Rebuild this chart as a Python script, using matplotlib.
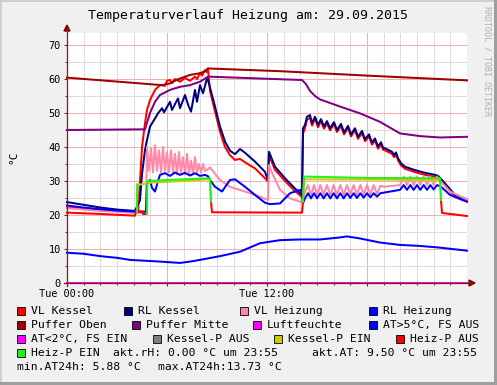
import numpy as np
import matplotlib
matplotlib.use("Agg")
import matplotlib.pyplot as plt
from matplotlib.lines import Line2D
from matplotlib.patches import Rectangle, Polygon

nan = np.nan

# ---------------- data (hours since Tue 00:00, °C) ----------------
vk_t = [0, 2, 4.08, 4.26, 4.38, 4.5, 4.68, 4.8, 4.98, 5.28, 5.58, 5.88, 6.0, 6.18, 6.3, 6.48, 6.78, 7.08,
        7.38, 7.68, 7.8, 7.98, 8.1, 8.28, 8.4, 8.46, 8.58, 8.88, 9.18, 9.48, 9.78, 10.08, 10.38, 10.68,
        11.28, 11.88, 12.06, 12.12, 12.48, 13.08, 13.68, 13.98, 14.1, 14.16, 14.28, 14.4, 14.58,
        14.7, 14.88, 15.06, 15.24, 15.42, 15.6, 15.78, 16.02, 16.2, 16.44, 16.62, 16.86, 17.04, 17.28,
        17.46, 17.7, 17.88, 18.12, 18.3, 18.48, 18.66, 18.84, 18.96, 19.08, 19.5, 19.62, 19.74, 19.86,
        20.04, 20.28, 20.88, 21.48, 22.08, 22.26, 22.44, 22.68, 23.28, 24]
vk_v = [22.3, 21.6, 21.0, 21.0, 30.0, 40.0, 47.0, 50.9, 53.8, 56.8, 58.2, 58.0, 59.5, 59.7, 58.8, 60.0, 59.2, 60.3,
        59.5, 60.7, 60.0, 61.7, 61.0, 62.6, 62.0, 63.1, 56.5, 50.5, 44.5, 40.0, 37.6, 36.2, 36.5, 35.5,
        33.7, 30.8, 29.8, 37.5, 33.3, 30.0, 27.0, 25.8, 25.3, 44.0, 45.5, 48.0, 48.6,
        46.3, 48.3, 45.8, 47.6, 45.4, 47.0, 44.9, 46.7, 44.4, 46.2, 43.7, 45.6, 43.1, 44.9,
        42.4, 44.1, 41.7, 43.1, 40.7, 41.9, 39.5, 40.8, 39.2, 39.0, 38.0, 37.0, 37.8, 36.1,
        34.6, 33.6, 32.6, 31.8, 31.2, 30.9, 30.0, 28.7, 25.3, 24.0]

rk_t = [0, 1, 2, 3, 4.08, 4.38, 4.5, 4.68, 4.8, 4.98, 5.28, 5.46, 5.7, 5.82, 6.18, 6.3, 6.66, 6.78, 7.08,
        7.26, 7.44, 7.68, 7.8, 7.98, 8.16, 8.4, 8.46, 8.88, 9.18, 9.48, 9.78, 10.08, 10.38, 10.68, 11.28,
        11.88, 12.06, 12.12, 12.48, 13.08, 13.68, 13.98, 14.1, 14.16, 14.28, 14.4, 14.58, 14.7, 14.88,
        15.06, 15.24, 15.42, 15.6, 15.78, 16.02, 16.2, 16.44, 16.62, 16.86, 17.04, 17.28, 17.46, 17.7,
        17.88, 18.12, 18.3, 18.48, 18.66, 18.84, 18.96, 19.08, 19.5, 19.62, 19.74, 19.86, 20.04, 20.28,
        20.88, 21.48, 22.08, 22.26, 22.44, 22.68, 23.28, 24]
rk_v = [23.8, 23.0, 22.2, 21.6, 21.2, 24.4, 32.0, 39.1, 42.0, 46.0, 48.4, 49.9, 51.4, 50.2, 53.3, 50.9, 54.3,
        51.4, 55.3, 52.5, 50.4, 56.8, 53.3, 58.2, 55.8, 60.2, 59.7, 51.9, 46.0, 41.6, 38.9, 37.9, 39.4,
        38.3, 35.7, 32.7, 30.3, 38.6, 34.2, 30.8, 27.8, 26.4, 25.9, 45.5, 46.5, 48.9, 49.4, 47.0, 48.9,
        46.5, 48.2, 46.0, 47.6, 45.5, 47.3, 45.0, 46.8, 44.3, 46.2, 43.7, 45.5, 43.0, 44.7, 42.3, 43.7,
        41.3, 42.5, 40.1, 41.4, 39.8, 39.6, 38.6, 37.6, 38.4, 36.7, 35.2, 34.2, 33.2, 32.4, 31.8, 31.5,
        30.6, 29.3, 25.9, 24.6]

vh_t = [0, 2, 4.08, 4.74, 4.8, 4.92, 5.04, 5.16, 5.28, 5.4, 5.52, 5.64, 5.76, 5.88, 6.0, 6.12, 6.24, 6.36,
        6.48, 6.6, 6.72, 6.84, 6.96, 7.08, 7.2, 7.32, 7.44, 7.56, 7.68, 7.8, 7.92, 8.04, 8.16, 8.28, 8.46,
        8.58, 9.18, 9.78, 10.68, 11.58, 12.06, 12.12, 12.3, 12.78, 13.38, 13.98, 14.1, 14.28, 14.46,
        14.64, 14.82, 15.0, 15.2, 15.4, 15.6, 15.8, 16.0, 16.2, 16.4, 16.6, 16.8, 17.0, 17.2, 17.4, 17.6,
        17.8, 18.0, 18.2, 18.4, 18.6, 18.8, 19.0, 19.98, 20.2, 20.4, 20.6, 20.8, 21.0, 21.2, 21.4, 21.6,
        21.8, 22.0, 22.2, 22.44, 22.98, 24]
vh_v = [22.0, 21.2, 20.6, 20.6, 40.1, 33.0, 39.5, 32.5, 40.5, 33.0, 39.0, 32.5, 40.0, 33.0, 38.5, 32.5,
        39.0, 32.5, 38.0, 32.0, 38.5, 32.5, 37.0, 32.0, 38.0, 32.0, 36.0, 32.0, 37.0, 32.5, 35.0, 32.5,
        35.0, 33.0, 33.5, 34.0, 30.3, 28.3, 26.9, 25.4, 24.4, 34.7, 32.4, 27.4, 24.9, 23.9, 23.7, 26.9,
        28.8, 25.9, 28.8, 25.9, 28.8, 25.9, 28.8, 25.9, 28.8, 25.9, 28.8, 25.9, 28.8, 26.0, 28.8, 26.0,
        28.8, 26.0, 28.8, 26.1, 28.8, 26.3, 28.6, 28.3, 28.8, 31.3, 28.8, 31.3, 28.8, 31.3, 28.8, 31.3,
        28.8, 31.3, 28.8, 31.3, 29.8, 26.9, 24.6]

rh_t = [0, 1, 2, 3, 4.08, 4.74, 4.8, 4.98, 5.1, 5.28, 5.46, 5.58, 5.88, 6.18, 6.48, 6.78, 7.08, 7.38,
        7.68, 7.98, 8.28, 8.46, 8.58, 8.88, 9.3, 9.78, 10.08, 10.68, 11.28, 11.88, 12.18, 12.78, 13.38,
        13.98, 14.1, 14.16, 14.28, 14.46, 14.64, 14.82, 15.0, 15.2, 15.4, 15.6, 15.8, 16.0, 16.2, 16.4,
        16.6, 16.8, 17.0, 17.2, 17.4, 17.6, 17.8, 18.0, 18.2, 18.4, 18.6, 18.8, 19.98, 20.2, 20.4, 20.6,
        20.8, 21.0, 21.2, 21.4, 21.6, 21.8, 22.0, 22.2, 22.44, 22.98, 24]
rh_v = [22.8, 22.2, 21.7, 21.3, 21.0, 21.0, 29.0, 30.3, 28.0, 26.9, 30.0, 31.8, 32.3, 31.5, 32.5, 31.8,
        32.4, 31.6, 32.3, 31.5, 31.8, 31.4, 30.3, 28.3, 26.9, 30.3, 30.5, 28.3, 25.9, 23.6, 23.2, 23.4,
        26.4, 27.4, 25.9, 23.5, 24.9, 26.4, 24.9, 26.4, 24.9, 26.4, 24.9, 26.4, 24.9, 26.4, 24.9, 26.4,
        24.9, 26.4, 25.0, 26.4, 25.0, 26.4, 25.1, 26.4, 25.2, 26.4, 25.4, 26.4, 27.4, 28.8, 27.4, 28.8,
        27.4, 28.8, 27.4, 28.8, 27.4, 28.8, 27.5, 28.8, 28.3, 25.9, 23.9]

po_t = [0, 5.7, 6.18, 6.6, 7.38, 7.98, 8.28, 8.46, 12.78, 18, 24]
po_v = [60.4, 58.2, 58.7, 59.8, 61.2, 61.7, 62.3, 63.1, 62.3, 61.0, 59.6]

pm_t = [0, 4.68, 4.98, 5.28, 5.58, 6.18, 6.78, 7.38, 7.98, 8.46, 14.1, 14.34, 14.58, 14.88, 15.18,
        16.38, 17.58, 18.78, 19.98, 21.18, 22.38, 24]
pm_v = [45.0, 45.2, 50.0, 53.3, 55.3, 56.8, 57.7, 58.2, 59.2, 60.7, 59.7, 58.5, 56.5, 55.0, 54.0,
        51.9, 49.9, 47.4, 44.0, 43.2, 42.8, 43.0]

rhum_t = [0, 24]
rhum_v = [0.0, 0.0]

at_t = [0, 1, 2, 3, 3.78, 5.58, 6.78, 7.38, 7.98, 9.18, 10.38, 11.58, 12.78, 13.98, 15.18, 16.38,
        16.8, 17.58, 18.78, 19.98, 21.18, 22.38, 24]
at_v = [8.9, 8.6, 7.9, 7.4, 6.8, 6.3, 5.9, 6.3, 6.8, 7.9, 9.2, 11.7, 12.6, 12.8, 12.8, 13.4,
        13.7, 13.1, 11.9, 11.2, 10.9, 10.4, 9.5]

ke_t = [4.2, 4.22, 5.0, 7.0, 8.46, 8.58, 8.64, nan, 14.16, 14.22, 22.38, 22.44]
ke_v = [21.0, 28.8, 29.5, 30.0, 30.5, 30.3, 24.0, nan, 24.0, 30.5, 30.3, 24.0]

ha_t = [0, 2, 4.08, 4.14, 4.5, 4.56, 4.8, nan, 8.64, 8.7, 14.1, 14.16, nan, 22.44, 22.5, 24]
ha_v = [20.7, 20.3, 19.8, 21.3, 21.0, 20.3, 20.3, nan, 24.0, 20.8, 20.7, 23.9, nan, 24.4, 20.6, 19.7]

he_t = [4.2, 4.22, nan, 4.8, 4.82, 6.5, 8.58, 8.64, nan, 14.16, 14.22, 18.0, 22.38, 22.44]
he_v = [21.0, 29.0, nan, 20.3, 30.0, 30.4, 30.8, 24.0, nan, 23.9, 31.3, 30.9, 30.8, 24.4]

series = [
    ("VL Kessel", vk_t, vk_v, "#FF0000"),
    ("RL Kessel", rk_t, rk_v, "#000080"),
    ("VL Heizung", vh_t, vh_v, "#FF88A8"),
    ("RL Heizung", rh_t, rh_v, "#0000FF"),
    ("Puffer Oben", po_t, po_v, "#A00000"),
    ("Puffer Mitte", pm_t, pm_v, "#800080"),
    ("Luftfeuchte", rhum_t, rhum_v, "#FF00FF"),
    ("AT>5°C, FS AUS", at_t, at_v, "#0000FF"),
    ("AT<2°C, FS EIN", None, None, "#FF00FF"),
    ("Kessel-P AUS", None, None, "#808080"),
    ("Kessel-P EIN", ke_t, ke_v, "#CCCC00"),
    ("Heiz-P AUS", ha_t, ha_v, "#FF0000"),
    ("Heiz-P EIN", he_t, he_v, "#22EE22"),
]

title = "Temperaturverlauf Heizung am: 29.09.2015"
xtick_pos = [0, 6, 12, 18]
xtick_lab = ["Tue 00:00", "", "Tue 12:00", ""]
ytick_pos = [0, 10, 20, 30, 40, 50, 60, 70]

# ---------------- figure ----------------
W, H = 497, 385
MONO = "DejaVu Sans Mono"
plt.rcParams["font.family"] = MONO
fig = plt.figure(figsize=(W / 100, H / 100), dpi=100, facecolor="#F0F0F0")

def fx(x):
    return x / W

def fy(y):
    return 1 - y / H

L, R, T, B = 67, 467, 33, 283
ax = fig.add_axes([fx(L), fy(B), (R - L) / W, (B - T) / H])
ax.set_facecolor("#FFFFFF")
ax.set_xlim(0, 24)
ax.set_ylim(0, (B - T) / 3.4)
for s in ax.spines.values():
    s.set_visible(False)

ax.set_xticks(xtick_pos)
ax.set_xticklabels(xtick_lab)
ax.set_xticks(np.arange(0, 24, 1), minor=True)
ax.set_yticks(ytick_pos)
ax.set_yticks(np.arange(0, 75, 5), minor=True)
ax.tick_params(which="both", colors="#7A2020", labelcolor="#000000", labelsize=7.4)
ax.tick_params(which="major", length=2.5, width=0.8)
ax.tick_params(which="minor", length=1.5, width=0.7)
ax.tick_params(axis="y", pad=2.0)
ax.tick_params(axis="x", pad=2.0)
ax.grid(which="minor", color="#DCDCDC", lw=0.75)
ax.grid(which="major", color="#F2B0B0", lw=0.75)
ax.set_axisbelow(True)

for name, t, v, c in series:
    if t is None:
        continue
    ax.plot(t, v, color=c, lw=1.45, solid_joinstyle="round", zorder=3, clip_on=False)

# axes lines and arrows
axc = "#7A2020"
fig.add_artist(Line2D([fx(L), fx(L)], [fy(B + 3), fy(T - 5)], color=axc, lw=0.9))
fig.add_artist(Line2D([fx(L - 3), fx(R + 5)], [fy(B), fy(B)], color=axc, lw=0.9))
fig.add_artist(Polygon([(fx(L - 3), fy(T - 2)), (fx(L + 3), fy(T - 2)), (fx(L), fy(T - 8))],
                       closed=True, color="#8B0000", transform=fig.transFigure))
fig.add_artist(Polygon([(fx(R + 2), fy(B - 3)), (fx(R + 2), fy(B + 3)), (fx(R + 8), fy(B))],
                       closed=True, color="#8B0000", transform=fig.transFigure))

# texts
fig.text(fx(248), fy(16), title, ha="center", va="center", fontsize=9.5, family=MONO)
fig.text(fx(13), fy(157), "°C", rotation=90, ha="center", va="center", fontsize=8, family=MONO)
fig.text(fx(487), fy(6), "RRDTOOL / TOBI OETIKER", rotation=270, ha="center", va="top",
         fontsize=6, color="#B0B0B0", family=MONO)

# legend
fs = 8.2
rows = [311, 325, 339, 353]
layout = [
    [(31, 0), (138, 1), (254, 2), (383, 3)],
    [(31, 4), (146, 5), (267, 6), (383, 7)],
    [(31, 8), (167, 9), (288, 10), (410, 11)],
    [(31, 12)],
]
for ry, row in zip(rows, layout):
    for tx, idx in row:
        name, _, _, c = series[idx]
        fig.add_artist(Rectangle((fx(tx - 14), fy(ry + 4)), 8 / W, 8 / H, facecolor=c,
                                 edgecolor="#000000", lw=0.6, transform=fig.transFigure))
        fig.text(fx(tx), fy(ry), name, ha="left", va="center", fontsize=fs, family=MONO)

fig.text(fx(113), fy(353), "akt.rH: 0.00 °C um 23:55", ha="left", va="center", fontsize=fs, family=MONO)
fig.text(fx(312), fy(353), "akt.AT: 9.50 °C um 23:55", ha="left", va="center", fontsize=fs, family=MONO)
fig.text(fx(17), fy(367), "min.AT24h: 5.88 °C", ha="left", va="center", fontsize=fs, family=MONO)
fig.text(fx(158), fy(367), "max.AT24h:13.73 °C", ha="left", va="center", fontsize=fs, family=MONO)

# frame shading
fig.add_artist(Rectangle((0, 0), 2 / W, 1, facecolor="#CFCFCF", edgecolor="none", transform=fig.transFigure))
fig.add_artist(Rectangle((0, 1 - 2 / H), 1, 2 / H, facecolor="#CFCFCF", edgecolor="none", transform=fig.transFigure))
fig.add_artist(Rectangle((1 - 3 / W, 0), 3 / W, 1, facecolor="#9E9E9E", edgecolor="none", transform=fig.transFigure))
fig.add_artist(Rectangle((0, 0), 1, 3 / H, facecolor="#9E9E9E", edgecolor="none", transform=fig.transFigure))

fig.savefig("out.png", dpi=100, facecolor=fig.get_facecolor())
